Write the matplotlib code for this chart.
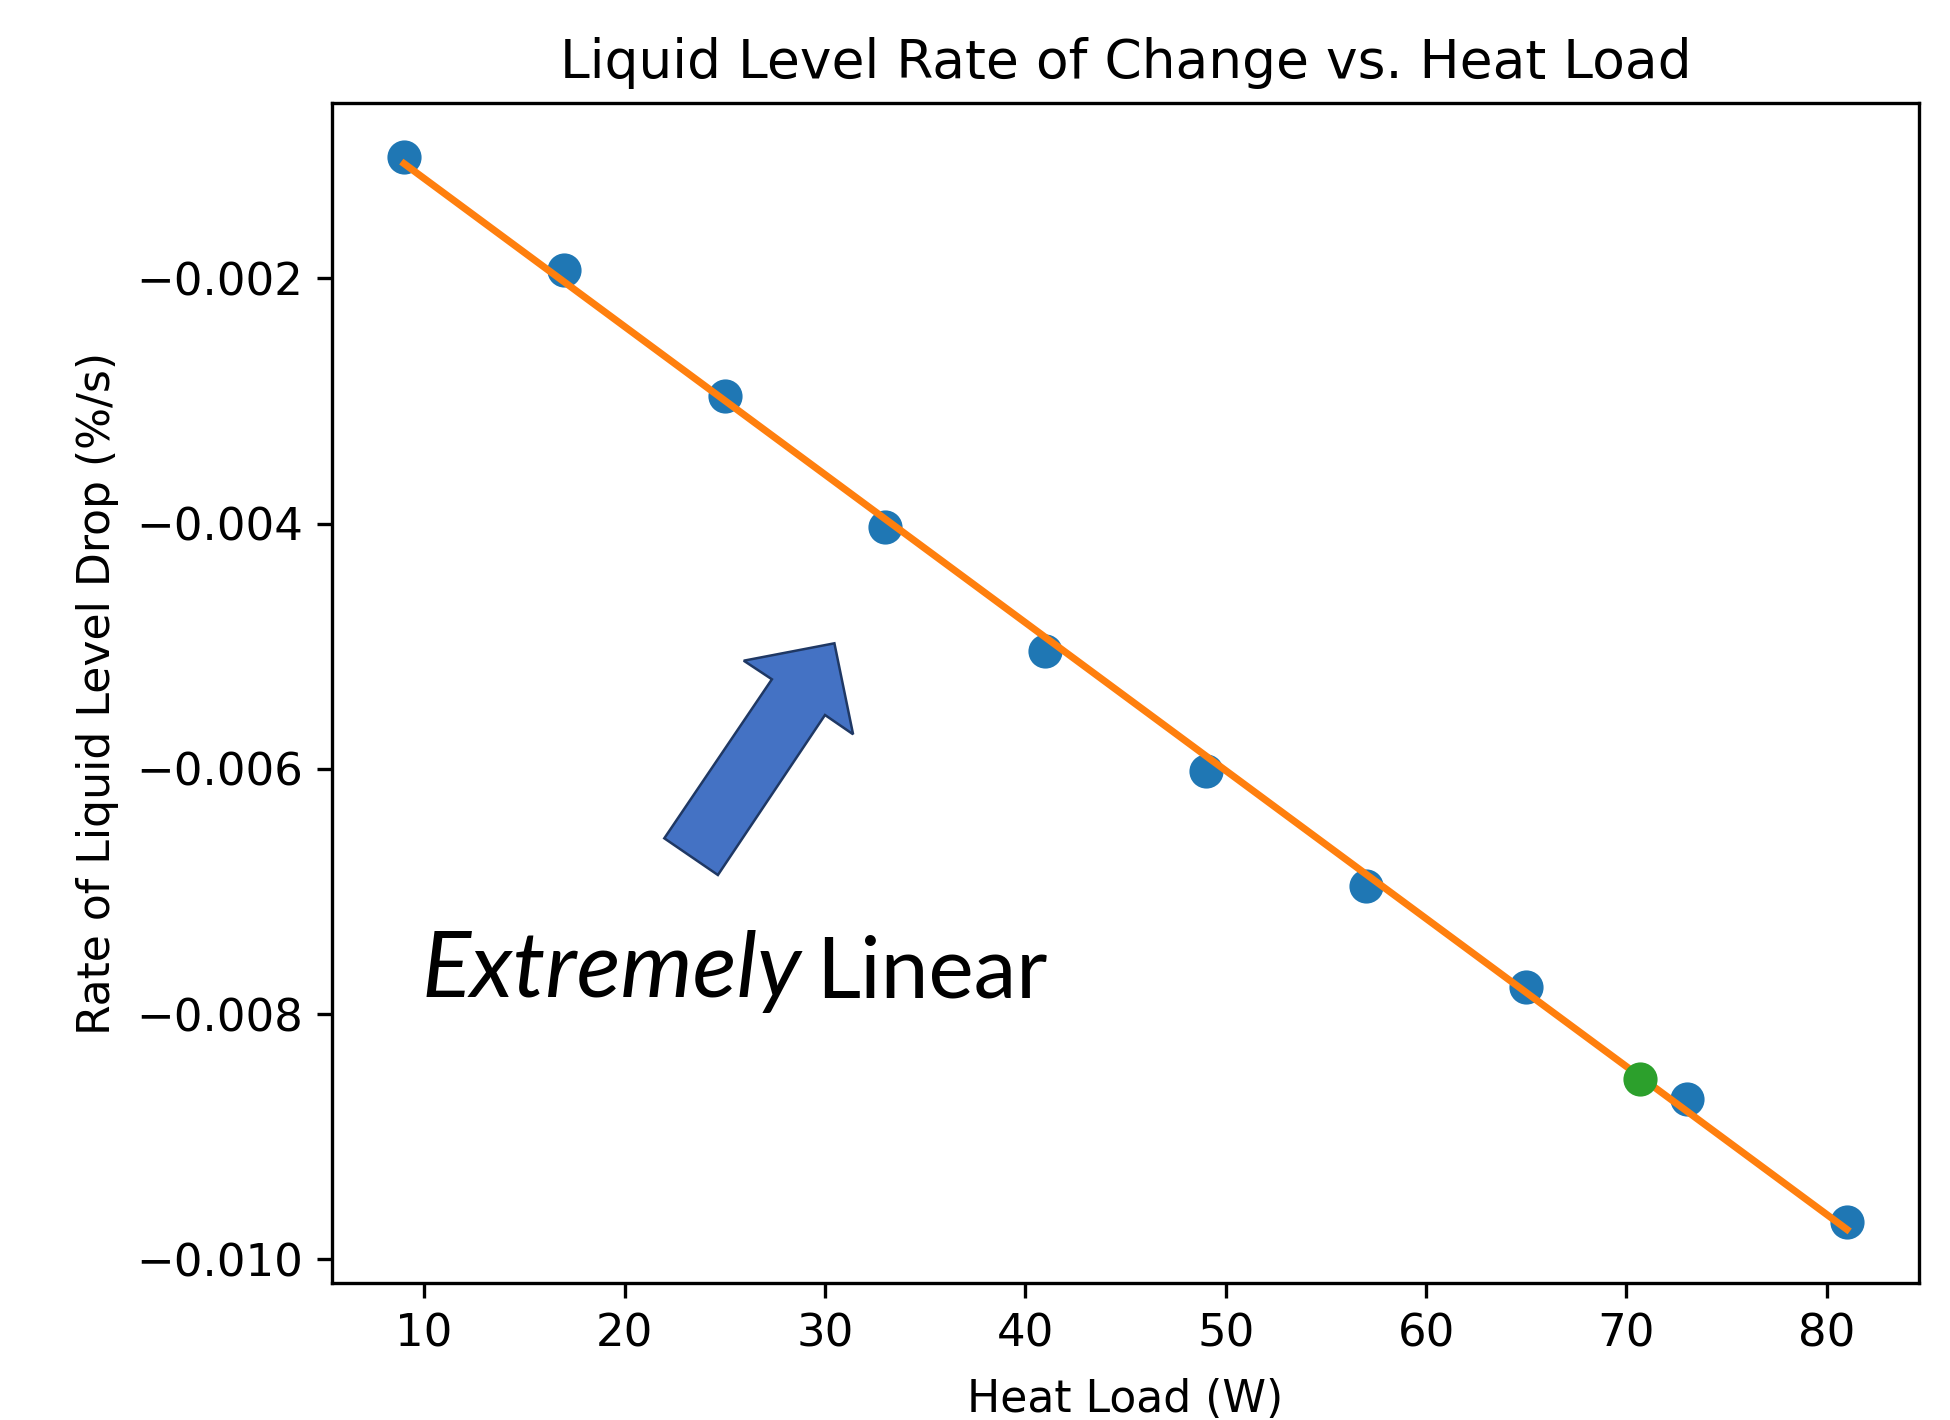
import numpy as np
import matplotlib.pyplot as plt
from matplotlib.patches import Polygon

heat_load = [9, 17, 25, 33, 41, 49, 57, 65, 73, 81]
rate = [-0.001008, -0.00193, -0.002962, -0.00403, -0.005043,
        -0.00602, -0.006952, -0.007777, -0.008689, -0.009696]
op_load = [70.7]
op_rate = [-0.008527]

W, H = 1950, 1420
fig = plt.figure(figsize=(W / 300, H / 300), dpi=300)
ax = fig.add_axes([332 / W, 1 - 1283 / H, (1919 - 332) / W, (1283 - 103) / H])

coef = np.polyfit(heat_load, rate, 1)
fit_x = np.array([heat_load[0], heat_load[-1]])
fit_y = np.polyval(coef, fit_x)

ax.plot(heat_load, rate, 'o', color='C0', ms=7.2, zorder=2)
ax.plot(fit_x, fit_y, '-', color='C1', lw=1.7, zorder=3)
ax.plot(op_load, op_rate, 'o', color='C2', ms=7.2, zorder=4)

ax.set_yticks([-0.002, -0.004, -0.006, -0.008, -0.010])
ax.tick_params(labelsize=10.8)
ax.set_title('Liquid Level Rate of Change vs. Heat Load', fontsize=12.8)
ax.set_xlabel('Heat Load (W)', fontsize=10.6, labelpad=5.5)
ax.set_ylabel('Rate of Liquid Level Drop (%/s)', fontsize=10.6)

# block arrow (pixel coords -> figure fraction)
arrow_px = [(834.4, 643.3), (853.1, 734.3), (825, 715), (717.9, 875),
            (664.3, 838.3), (771.9, 679.3), (743.75, 660.7)]
arrow_fig = [(x / W, 1 - y / H) for x, y in arrow_px]
fig.patches.append(Polygon(arrow_fig, closed=True, transform=fig.transFigure,
                           facecolor='#4472C4', edgecolor='#1F3864', lw=0.6))

fig.text(422 / W, 1 - 997 / H, 'Extremely', family='Lato', style='italic',
         fontsize=22, va='baseline', ha='left')
fig.text(816 / W, 1 - 997 / H, 'Linear', family='Lato',
         fontsize=20.6, va='baseline', ha='left')

fig.savefig('out.png', dpi=300)
